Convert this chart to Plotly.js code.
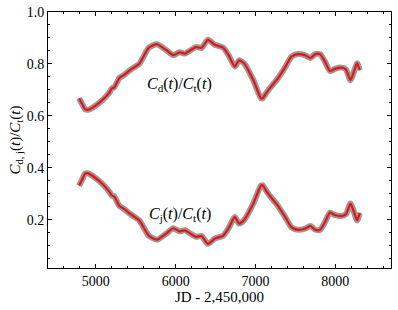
<!DOCTYPE html>
<html>
<head>
<meta charset="utf-8">
<script src="https://cdn.plot.ly/plotly-3.0.1.min.js"></script>
<style>
html,body{margin:0;padding:0;background:#fff;}
#chart{width:398px;height:310px;}
</style>
</head>
<body>
<div id="chart"></div>
<script>
// JD - 2,450,000
var jd = [4790, 4830, 4865, 4905, 4965, 5070, 5165, 5200, 5230, 5295, 5345, 5445, 5545, 5595, 5665, 5765, 5885, 5970, 6050, 6115, 6255, 6325, 6405, 6490, 6595, 6660, 6742, 6796, 6860, 6975, 7070, 7090, 7140, 7185, 7285, 7370, 7452, 7535, 7620, 7690, 7750, 7810, 7870, 7935, 7995, 8080, 8135, 8192, 8245, 8275, 8308];
// C_d(t)/C_t(t)
var cdRatio = [0.668, 0.645, 0.626, 0.624, 0.633, 0.658, 0.688, 0.706, 0.710, 0.746, 0.756, 0.780, 0.801, 0.827, 0.863, 0.876, 0.853, 0.834, 0.845, 0.840, 0.865, 0.862, 0.893, 0.874, 0.863, 0.836, 0.790, 0.814, 0.802, 0.737, 0.668, 0.668, 0.690, 0.708, 0.746, 0.786, 0.828, 0.838, 0.834, 0.823, 0.838, 0.838, 0.810, 0.773, 0.781, 0.786, 0.779, 0.738, 0.779, 0.803, 0.776];
// C_j(t)/C_t(t)
var cjRatio = [0.332, 0.356, 0.378, 0.379, 0.368, 0.342, 0.310, 0.294, 0.290, 0.254, 0.244, 0.220, 0.198, 0.173, 0.139, 0.124, 0.148, 0.168, 0.156, 0.160, 0.135, 0.138, 0.108, 0.128, 0.139, 0.166, 0.211, 0.186, 0.200, 0.264, 0.332, 0.333, 0.310, 0.291, 0.253, 0.213, 0.172, 0.162, 0.166, 0.177, 0.162, 0.162, 0.190, 0.228, 0.219, 0.215, 0.222, 0.263, 0.222, 0.198, 0.227];

var xTickVals = [5000, 6000, 7000, 8000];
var yTickVals = [0.2, 0.4, 0.6, 0.8, 1.0];
var yTickText = ['0.2', '0.4', '0.6', '0.8', '1.0'];

var FONT = 'Liberation Serif';

function band(y) {
  return {x: jd, y: y, mode: 'lines', type: 'scatter', hoverinfo: 'skip',
    line: {color: 'rgba(110,110,110,0.7)', width: 6, shape: 'spline', smoothing: 0.6}};
}
function main(y) {
  return {x: jd, y: y, mode: 'lines', type: 'scatter',
    line: {color: '#ee1111', width: 2.2, shape: 'spline', smoothing: 0.6}};
}

var data = [band(cdRatio), main(cdRatio), band(cjRatio), main(cjRatio)];

var axisCommon = {
  showline: true, linecolor: '#000', linewidth: 1, mirror: 'ticks',
  ticks: 'inside', ticklen: 4, tickwidth: 1, tickcolor: '#000',
  showgrid: false, zeroline: false,
  tickfont: {family: FONT, size: 14, color: '#000'}
};

var layout = {
  width: 398, height: 310,
  margin: {l: 48, r: 7, t: 12, b: 42},
  paper_bgcolor: '#fff', plot_bgcolor: '#fff',
  showlegend: false,
  font: {family: FONT, color: '#000'},
  xaxis: Object.assign({}, axisCommon, {
    range: [4400, 8700], tickmode: 'array', tickvals: xTickVals,
    ticktext: xTickVals.map(String),
    minor: {dtick: 200, tick0: 0, ticks: 'inside', ticklen: 2, tickcolor: '#000', tickwidth: 1},
    title: {text: 'JD - 2,450,000', font: {family: FONT, size: 15, color: '#000'}, standoff: 2}
  }),
  yaxis: Object.assign({}, axisCommon, {
    range: [0.015, 1.0], tickmode: 'array', tickvals: yTickVals, ticktext: yTickText,
    minor: {dtick: 0.05, tick0: 0, ticks: 'inside', ticklen: 2, tickcolor: '#000', tickwidth: 1},
    title: {text: '<i>C</i><sub>d, j</sub>(<i>t</i>)/<i>C</i><sub>t</sub>(<i>t</i>)', font: {family: FONT, size: 15, color: '#000'}, standoff: 2}
  }),
  annotations: [
    {x: 6050, y: 0.72, xref: 'x', yref: 'y', showarrow: false,
     text: '<i>C</i><sub>d</sub>(<i>t</i>)/<i>C</i><sub>t</sub>(<i>t</i>)',
     font: {family: FONT, size: 16, color: '#000'}},
    {x: 6050, y: 0.22, xref: 'x', yref: 'y', showarrow: false,
     text: '<i>C</i><sub>j</sub>(<i>t</i>)/<i>C</i><sub>t</sub>(<i>t</i>)',
     font: {family: FONT, size: 16, color: '#000'}}
  ]
};

Plotly.newPlot('chart', data, layout, {displayModeBar: false});
</script>
</body>
</html>
